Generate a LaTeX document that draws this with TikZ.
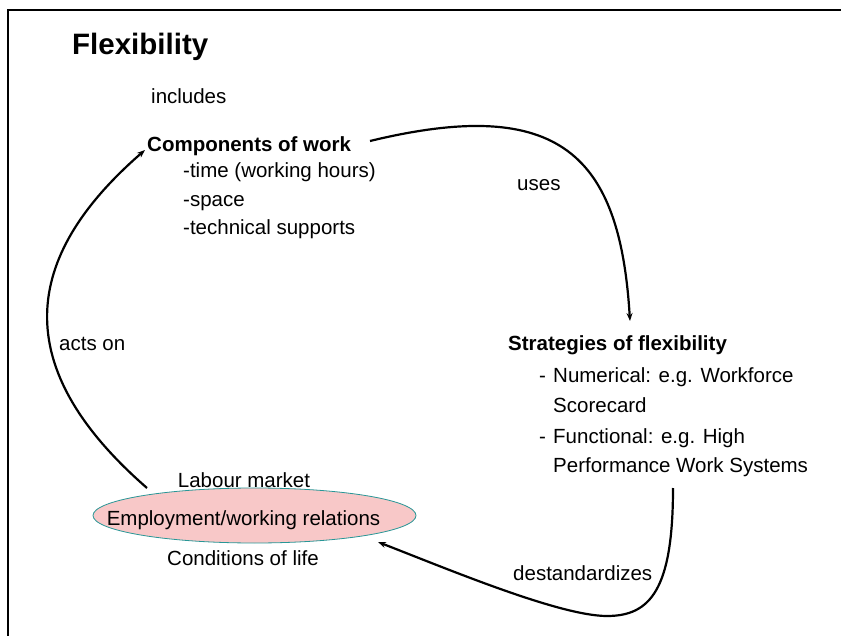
\documentclass[tikz,border=0pt]{standalone}
\usepackage{fontspec}
\setmainfont{Liberation Sans}
\usetikzlibrary{shapes.geometric,arrows.meta}
\definecolor{ellfill}{RGB}{248,200,200}
\definecolor{elldraw}{RGB}{40,150,150}
\tikzset{
  txt/.style={inner sep=0pt, anchor=base west, font=\fontsize{20.5}{24}\selectfont},
  ctxt/.style={inner sep=0pt, anchor=base, font=\fontsize{20.5}{24}\selectfont},
  btxt/.style={txt, font=\fontsize{20.5}{24}\selectfont\bfseries},
  conn/.style={line width=2.2pt, -{Stealth[length=8pt,width=6pt]}},
  frameline/.style={line width=2.6pt}
}
\begin{document}
\begin{tikzpicture}[x=1pt,y=-1pt]
\useasboundingbox (0,0) rectangle (841,636);
% frame
\coordinate (ftl) at (8,10);
\coordinate (ftr) at (841,10);
\coordinate (fbl) at (8,636);
\draw[frameline] (ftr) -- (ftl) -- (fbl);
% title
\node[inner sep=0pt, anchor=base west, font=\fontsize{29.5}{34}\selectfont\bfseries] (title) at (72,55) {Flexibility};
\node[txt] (includes) at (151,104) {includes};
% components
\node[btxt] (comp) at (147,152) {Components of work};
\node[txt] (c1) at (183,178) {-time (working hours)};
\node[txt] (c2) at (183,207) {-space};
\node[txt] (c3) at (183,235) {-technical supports};
% strategies
\node[btxt] (strat) at (508,351) {Strategies of flexibility};
\node[txt] (d1) at (539,383) {-};
\node[txt] (s1) at (553,383) {Numerical: e.g. Workforce};
\node[txt] (s2) at (553,412) {Scorecard};
\node[txt] (d2) at (539,443) {-};
\node[txt] (s3) at (553,443) {Functional: e.g. High};
\node[txt] (s4) at (553,472) {Performance Work Systems};
% ellipse
\node[ellipse, draw=elldraw, line width=0.8pt, fill=ellfill, minimum width=323pt, minimum height=55pt, inner sep=0pt] (emp) at (254.5,515.5) {};
\node[ctxt] (emptext) at (243.5,525) {Employment/working relations};
\node[ctxt] (labour) at (244,487) {Labour market};
\node[ctxt] (cond) at (243,565) {Conditions of life};
% labels
\node[txt] (uses) at (517,191) {uses};
\node[txt] (acts) at (59,351) {acts on};
\node[txt] (dest) at (513,580) {destandardizes};
% connector end points
\coordinate (a1s) at (147,488);
\coordinate (a1e) at (145,150);
\coordinate (a2s) at (370,141);
\coordinate (a2e) at (630,321);
\coordinate (a3s) at (673,488);
\coordinate (a3m) at (607,616);
\coordinate (a3e) at (378,542);
% connectors
\draw[conn] (a1s) .. controls (0,360) and (30,250) .. (a1e);
\draw[conn] (a2s) .. controls (560,95) and (620,155) .. (a2e);
\draw[conn] (a3s) .. controls (673,590) and (650,616) .. (a3m) .. controls (560,616) and (450,570) .. (a3e);
\end{tikzpicture}
\end{document}
